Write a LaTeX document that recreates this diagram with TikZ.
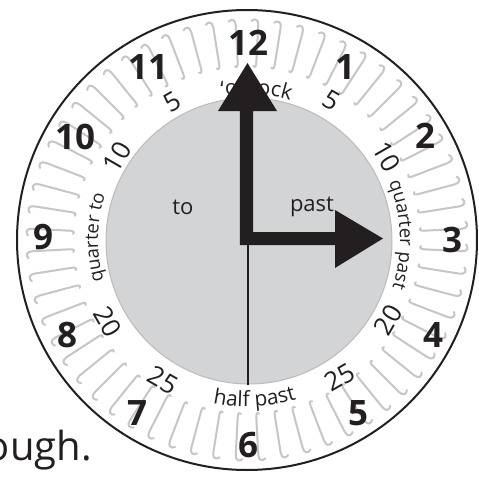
\documentclass[tikz,border=0pt]{standalone}
\usepackage{fontspec}
\setmainfont{Open Sans}
\usetikzlibrary{decorations.text}
\definecolor{ink}{HTML}{231F20}
\definecolor{dial}{HTML}{D3D4D6}
\definecolor{dialedge}{HTML}{BDBBB9}
\definecolor{hookgray}{HTML}{C8C6C4}
\newcommand\arcfont{\fontsize{21}{21}\selectfont\color{ink}}
\newcommand\qarcfont{\fontsize{18.5}{18.5}\selectfont\color{ink}}
\begin{document}
\begin{tikzpicture}[x=1pt,y=1pt,
  hourlbl/.style={font=\fontsize{35}{35}\selectfont\bfseries, text=ink, inner sep=0pt},
  minlbl/.style={font=\fontsize{26}{26}\selectfont, text=ink, inner sep=0pt},
  wordlbl/.style={font=\fontsize{22}{22}\selectfont, text=ink, inner sep=0pt},
  hookline/.style={draw=hookgray, line width=2pt, line cap=round},
  arctext/.style={decorate, decoration={text along path, text align=center, text={#1}}}
]
\useasboundingbox (-247,-237) rectangle (232,240);
\clip (-247,-237) rectangle (232,240);
% outer rim
\draw[ink, line width=2pt, fill=white] (0,0) circle[radius=230];
% hooks
\foreach \a in {3,9,...,357} {
  \draw[hookline, rotate=\a] (174,3) .. controls (172,0.5) and (175,0) .. (178,0) -- (215,0) .. controls (221,0) and (222,4) .. (219,7);
}
% dial
\draw[dialedge, line width=1pt, fill=dial] (2,-1) circle[radius=143];
% curved words
\path[arctext={|\qarcfont|quarter past}] (42:153) arc[start angle=42, end angle=-38, radius=153];
\path[arctext={|\qarcfont|quarter to}] (219:149) arc[start angle=219, end angle=139, radius=149];
\path[arctext={|\arcfont|‘o’clock}] (126.3:146) arc[start angle=126.3, end angle=46.3, radius=146];
\path[arctext={|\arcfont|half past}] (232.7:167) arc[start angle=232.7, end angle=312.7, radius=167];
% minute numbers
\node[minlbl, rotate=-30] (m5r) at (85,140) {5};
\node[minlbl, rotate=-60] (m10r) at (140,83) {10};
\node[minlbl, rotate=60] (m20r) at (141,-80) {20};
\node[minlbl, rotate=30] (m25r) at (93,-137) {25};
\node[minlbl, rotate=-30] (m25l) at (-84,-140) {25};
\node[minlbl, rotate=-60] (m20l) at (-139,-82) {20};
\node[minlbl, rotate=60] (m10l) at (-130,83) {10};
\node[minlbl, rotate=30] (m5l) at (-75,138) {5};
% hour numbers
\node[hourlbl] (h12) at (1,197) {12};
\node[hourlbl] (h1) at (98,173) {1};
\node[hourlbl] (h2) at (178,104) {2};
\node[hourlbl] (h3) at (205,0) {3};
\node[hourlbl] (h4) at (186,-95) {4};
\node[hourlbl] (h5) at (111,-173) {5};
\node[hourlbl] (h6) at (1,-205) {6};
\node[hourlbl] (h7) at (-110,-173) {7};
\node[hourlbl] (h8) at (-180,-95) {8};
\node[hourlbl] (h9) at (-204,3) {9};
\node[hourlbl] (h10) at (-172,103) {10};
\node[hourlbl] (h11) at (-99,173) {11};
% to / past
\node[wordlbl] (to) at (-64,33) {to};
\node[wordlbl] (past) at (65,33) {past};
% half-past line
\coordinate (hub) at (1,-5);
\coordinate (rimbottom) at (1,-145);
\draw[ink, line width=1.5pt] (hub) -- (rimbottom);
% hands
\fill[ink] (-7,-5) -- (-7,129) -- (-29,129) -- (0.5,177) -- (30,129) -- (6,129) -- (6,8) -- (88,8) -- (88,30) -- (136,1.5) -- (88,-28) -- (88,-5) -- cycle;
% cut-off text
\node[anchor=base east, font=\fontsize{40}{40}\selectfont, text=ink, inner sep=0pt] (tail) at (-155,-220) {ough.};
\end{tikzpicture}
\end{document}
